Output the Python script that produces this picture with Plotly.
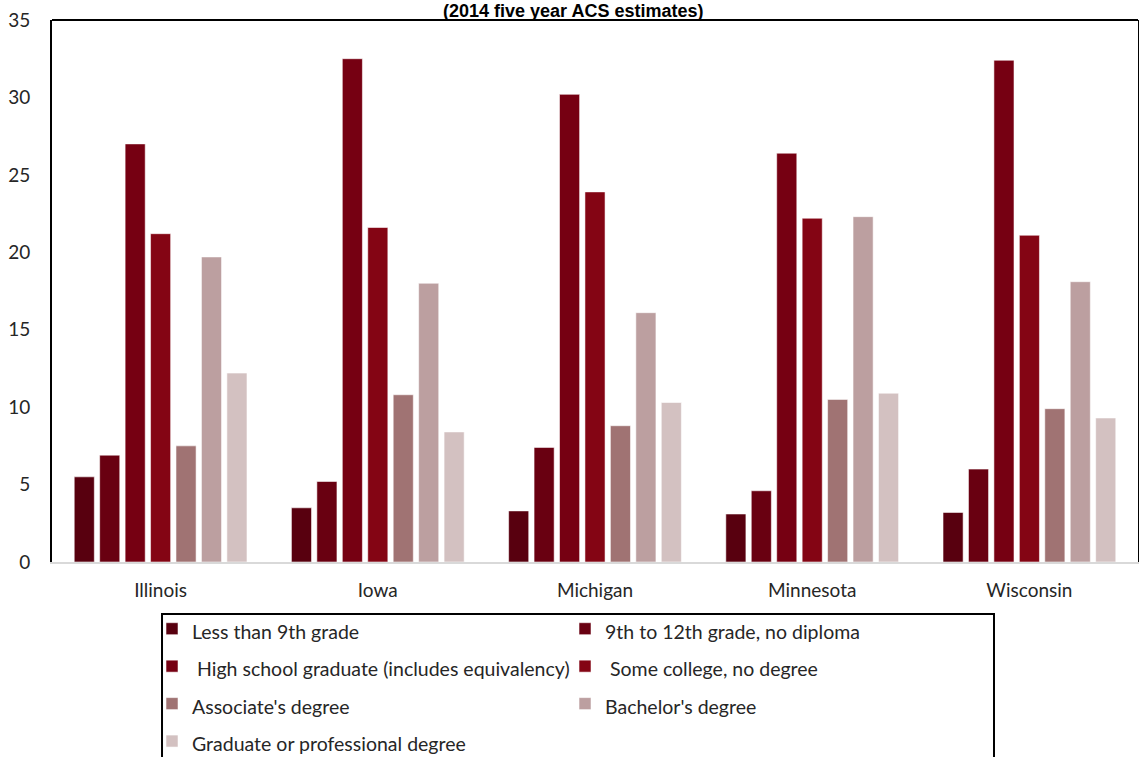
import plotly.graph_objects as go

# States (x categories)
states = ["Illinois", "Iowa", "Michigan", "Minnesota", "Wisconsin"]

# Educational attainment categories (legend entries)
levels = [
    "Less than 9th grade",
    "9th to 12th grade, no diploma",
    " High school graduate (includes equivalency)",
    " Some college, no degree",
    "Associate's degree",
    "Bachelor's degree",
    "Graduate or professional degree",
]

# Percent of population 25+ by attainment level, one list per level
less_than_9th = [5.5, 3.5, 3.3, 3.1, 3.2]
grade_9_to_12 = [6.9, 5.2, 7.4, 4.6, 6.0]
high_school = [27.0, 32.5, 30.2, 26.4, 32.4]
some_college = [21.2, 21.6, 23.9, 22.2, 21.1]
associates = [7.5, 10.8, 8.8, 10.5, 9.9]
bachelors = [19.7, 18.0, 16.1, 22.3, 18.1]
graduate = [12.2, 8.4, 10.3, 10.9, 9.3]

series = [less_than_9th, grade_9_to_12, high_school, some_college,
          associates, bachelors, graduate]

colors = ["#58000f", "#690011", "#760012", "#840514",
          "#a07373", "#bc9fa0", "#d3c1c1"]

FONT = "Lato, 'Open Sans', sans-serif"
TEXT = "#262626"

fig = go.Figure()
for name, vals, col in zip(levels, series, colors):
    fig.add_trace(go.Bar(
        x=states, y=vals,
        name=f"<span style='font-size:19.5px'>{name}</span>",
        marker=dict(color=col, line=dict(color="rgba(255,255,255,0.55)", width=1)),
    ))

fig.update_layout(
    width=1139, height=757,
    margin=dict(l=52, r=1, t=20, b=195, autoexpand=False),
    paper_bgcolor="white", plot_bgcolor="white",
    barmode="group", bargap=0.18, bargroupgap=0.21,
    font=dict(family=FONT, color=TEXT),
    showlegend=True,
    legend=dict(
        orientation="h",
        x=0.0921, xanchor="left",
        y=-0.0793, yanchor="top",
        bgcolor="rgba(0,0,0,0)", borderwidth=0,
        font=dict(family=FONT, size=26.5, color=TEXT),
        entrywidth=368, entrywidthmode="pixels",
        itemwidth=30,
        traceorder="normal",
    ),
    xaxis=dict(
        showline=True, linecolor="#d9d9d9", linewidth=2,
        ticks="outside", ticklen=10, tickcolor="rgba(0,0,0,0)",
        tickfont=dict(family=FONT, size=19, color=TEXT),
        showgrid=False, zeroline=False,
    ),
    yaxis=dict(
        range=[0, 35], dtick=5,
        showline=True, linecolor="black", linewidth=2, mirror=True,
        ticks="outside", ticklen=16, tickcolor="rgba(0,0,0,0)",
        tickfont=dict(family=FONT, size=19, color=TEXT),
        showgrid=False, zeroline=False,
    ),
    shapes=[
        # top edge of the plot frame
        dict(type="line", xref="paper", yref="paper",
             x0=0, x1=1, y0=1, y1=1,
             line=dict(color="black", width=2)),
        # legend frame
        dict(type="rect", xref="paper", yref="paper",
             x0=0.1013, x1=0.8674, y0=-0.0959, y1=-0.45,
             line=dict(color="black", width=2)),
    ],
    annotations=[dict(
        text="<b>(2014 five year ACS estimates)</b>",
        xref="paper", yref="paper", x=0.4797, y=1.0166,
        xanchor="center", yanchor="middle", showarrow=False,
        font=dict(family="Liberation Sans, Arial, sans-serif", size=18, color="black"),
    )],
)

fig.write_html("out.html")
